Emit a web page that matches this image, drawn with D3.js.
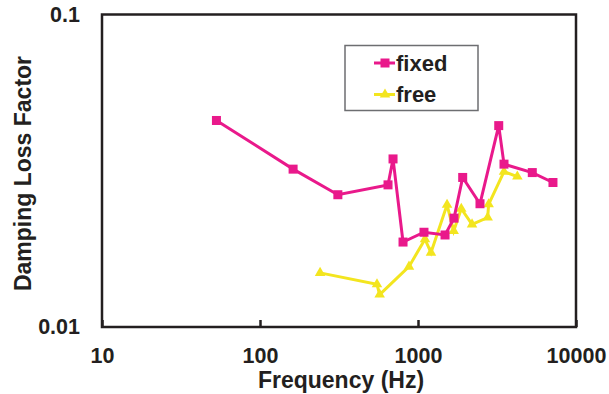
<!DOCTYPE html>
<html>
<head>
<meta charset="utf-8">
<script src="https://cdn.jsdelivr.net/npm/d3@7"></script>
<style>
  body { margin: 0; background: #fff; }
  svg { font-family: "Liberation Sans", Arial, sans-serif; font-weight: bold; }
  .axis text { font-size: 21.5px; fill: #231f20; }
  .axis line { stroke: #231f20; stroke-width: 2.5; }
  .axis path { display: none; }
</style>
</head>
<body>
<svg id="chart" width="609" height="394"></svg>
<script>
// fixed series
var fixedFreq = [53, 162, 311, 646, 695, 804, 1091, 1483, 1690, 1918, 2468, 3243, 3502, 5289, 7148];
var fixedLoss = [0.0458, 0.0320, 0.0265, 0.0285, 0.0345, 0.0187, 0.0201, 0.0197, 0.0223, 0.0301, 0.0248, 0.0441, 0.0332, 0.0312, 0.0290];
// free series
var freeFreq = [240, 550, 572, 877, 1107, 1208, 1527, 1682, 1879, 2198, 2760, 2800, 3502, 4253];
var freeLoss = [0.0149, 0.0137, 0.0127, 0.0156, 0.0191, 0.0173, 0.0246, 0.0203, 0.0239, 0.0213, 0.0224, 0.0247, 0.0314, 0.0303];

var xTicks = [10, 100, 1000, 10000];
var yTicks = [0.01, 0.1];

const plotLeft = 102, plotRight = 576, plotTop = 14.5, plotBottom = 327;

var x = d3.scaleLog().domain([10, 10000]).range([plotLeft, plotRight]);
var y = d3.scaleLog().domain([0.01, 0.1]).range([plotBottom, plotTop]);

var svg = d3.select("#chart");

var series = [
  { name: "fixed", color: "#e9198b", shape: "square",
    pts: fixedFreq.map((f, i) => ({ f: f, v: fixedLoss[i] })) },
  { name: "free", color: "#f3e51f", shape: "triangle",
    pts: freeFreq.map((f, i) => ({ f: f, v: freeLoss[i] })) }
];

var line = d3.line().x(d => x(d.f)).y(d => y(d.v));

function marker(g, s, cx, cy) {
  if (s.shape === "square") {
    g.append("rect")
      .attr("x", cx - 4.5).attr("y", cy - 4.5)
      .attr("width", 9).attr("height", 9)
      .attr("fill", s.color);
  } else {
    g.append("path")
      .attr("d", d3.symbol().type(d3.symbolTriangle).size(48)())
      .attr("transform", "translate(" + cx + "," + cy + ")")
      .attr("fill", s.color);
  }
}

// draw free first so fixed sits on top
series.slice().reverse().forEach(s => {
  var g = svg.append("g");
  g.append("path")
    .datum(s.pts)
    .attr("d", line)
    .attr("fill", "none")
    .attr("stroke", s.color)
    .attr("stroke-width", 3);
  s.pts.forEach(p => marker(g, s, x(p.f), y(p.v)));
});

// axes
svg.append("g")
  .attr("class", "axis")
  .attr("transform", "translate(0," + plotBottom + ")")
  .call(d3.axisBottom(x).tickValues(xTicks).tickFormat(d3.format("d"))
    .tickSizeInner(-7).tickSizeOuter(0).tickPadding(21));

svg.append("g")
  .attr("class", "axis")
  .attr("transform", "translate(" + plotLeft + ",0)")
  .call(d3.axisLeft(y).tickValues(yTicks).tickFormat(d => String(d))
    .tickSize(0).tickPadding(22));

// frame
svg.append("rect")
  .attr("x", plotLeft).attr("y", plotTop)
  .attr("width", plotRight - plotLeft).attr("height", plotBottom - plotTop)
  .attr("fill", "none")
  .attr("stroke", "#231f20")
  .attr("stroke-width", 2.5);

// axis titles
svg.append("text")
  .attr("x", 341)
  .attr("y", 388)
  .attr("text-anchor", "middle")
  .attr("font-size", 23)
  .attr("fill", "#231f20")
  .text("Frequency (Hz)");

svg.append("text")
  .attr("transform", "translate(31," + 173.5 + ")rotate(-90)")
  .attr("text-anchor", "middle")
  .attr("font-size", 23)
  .attr("fill", "#231f20")
  .text("Damping Loss Factor");

// legend
var legend = svg.append("g");
legend.append("rect")
  .attr("x", 345).attr("y", 45.5)
  .attr("width", 133).attr("height", 65)
  .attr("fill", "#fff")
  .attr("stroke", "#6d6e71")
  .attr("stroke-width", 1.5);

series.forEach((s, i) => {
  var ly = 63 + i * 31.5;
  legend.append("line")
    .attr("x1", 374).attr("x2", 395)
    .attr("y1", ly).attr("y2", ly)
    .attr("stroke", s.color).attr("stroke-width", 3);
  marker(legend, s, 385, ly);
  legend.append("text")
    .attr("x", 396)
    .attr("y", ly)
    .attr("dy", "0.36em")
    .attr("font-size", 22)
    .attr("fill", "#231f20")
    .text(s.name);
});
</script>
</body>
</html>
